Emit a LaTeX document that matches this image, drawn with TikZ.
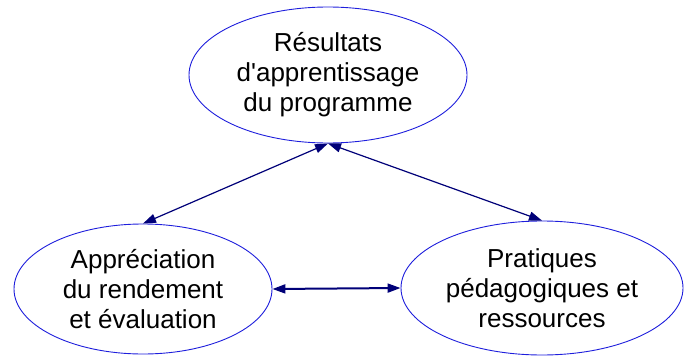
\documentclass[tikz,border=0pt]{standalone}
\usepackage{fontspec}
\setsansfont{Liberation Sans}
\tikzset{every picture/.style={/utils/exec={\sffamily}}}
\usetikzlibrary{shapes.geometric}
\usetikzlibrary{arrows.meta}
\definecolor{ovalblue}{RGB}{30,30,220}
\definecolor{arrownavy}{RGB}{0,0,120}
\tikzset{
  oval/.style={ellipse, draw=ovalblue, line width=0.9pt, inner sep=0pt,
    align=center, font=\fontsize{26}{30}\selectfont},
  link/.style={arrownavy, line width=1.2pt,
    {Triangle[length=13pt,width=9pt]}-{Triangle[length=13pt,width=9pt]}}
}

\begin{document}
\begin{tikzpicture}[x=1pt,y=-1pt]
  \useasboundingbox (0,0) rectangle (685,356);
  \node [oval, minimum width=278pt, minimum height=136pt] (outcomes) at (328,75)
    {R\'esultats\\d\textquotesingle apprentissage\\du programme};
  \node [oval, minimum width=258pt, minimum height=130pt] (assess) at (143,289)
    {Appr\'eciation\\du rendement\\et \'evaluation};
  \node [oval, minimum width=282pt, minimum height=134pt] (practice) at (542,288)
    {Pratiques\\p\'edagogiques et\\ressources};

  \draw [link] (outcomes.south) -- (assess.north);
  \draw [link] (outcomes.south) -- (practice.north);
  \draw [link, line width=2pt] (assess.east) -- (practice.west);
\end{tikzpicture}
\end{document}
